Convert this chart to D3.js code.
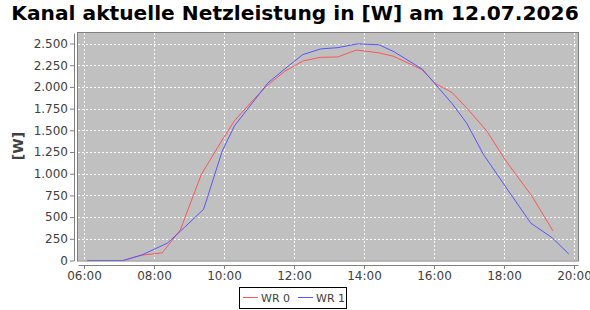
<!DOCTYPE html>
<html><head><meta charset="utf-8">
<script src="https://cdn.jsdelivr.net/npm/d3@7"></script>
<style>
html,body{margin:0;padding:0;background:#fff;}
svg{display:block;font-family:"DejaVu Sans",sans-serif;}
</style></head>
<body><svg id="c" width="590" height="310"></svg>
<script>
const title = "Kanal aktuelle Netzleistung in [W] am 12.07.2026";
const yLabel = "[W]";
const seriesNames = ["WR 0", "WR 1"];
const xTickLabels = ["06:00","08:00","10:00","12:00","14:00","16:00","18:00","20:00"];
const yTickValues = [0,250,500,750,1000,1250,1500,1750,2000,2250,2500];

const wr0Times = ["06:06","07:07","07:37","08:14","08:45","09:21","09:58","10:18","10:50","11:13","11:44","12:16","12:45","13:15","13:47","14:26","14:51","15:39","16:02","16:31","16:57","17:31","18:03","18:48","19:24"];
const wr0Values = [0,0,60,88,350,990,1400,1610,1850,2010,2180,2300,2340,2345,2425,2392,2352,2200,2040,1935,1750,1487,1150,740,340];

const wr1Times = ["06:06","07:07","07:38","08:23","08:52","09:25","09:57","10:18","11:15","11:44","12:15","12:46","13:15","13:49","14:26","14:52","15:40","16:02","16:31","16:56","17:25","18:03","18:46","19:23","19:51"];
const wr1Values = [0,0,60,200,380,590,1262,1552,2044,2206,2372,2438,2452,2496,2485,2403,2204,2034,1808,1583,1219,847,430,260,75];

const colors = ["#ff5555","#5555ff"];
const toH = s => { const [h,m] = s.split(":").map(Number); return h + m/60; };

const svg = d3.select("#c");
const L = 78, R = 578, T = 33, B = 260.5;

const x = d3.scaleLinear().domain([6 - 6/35, 6 - 6/35 + 500/35]).range([L, R]);
const y = d3.scaleLinear().domain([0, 2621]).range([B, T]);

// title
svg.append("text").attr("x", 295).attr("y", 20).attr("text-anchor","middle")
  .style("font-weight","bold").style("font-size","20.2px").attr("fill","#000").text(title);

// plot bg
svg.append("rect").attr("x",L).attr("y",T).attr("width",R-L).attr("height",B-T).attr("fill","#c0c0c0");

// grid
const xTickVals = xTickLabels.map(toH);
svg.append("g").selectAll("line").data(xTickVals).join("line")
  .attr("x1",d=>Math.round(x(d))+0.5).attr("x2",d=>Math.round(x(d))+0.5).attr("y1",T).attr("y2",B)
  .attr("stroke","#fff").attr("stroke-width",1).attr("stroke-dasharray","2,2");
svg.append("g").selectAll("line").data(yTickValues).join("line")
  .attr("y1",d=>Math.round(y(d))+0.5).attr("y2",d=>Math.round(y(d))+0.5).attr("x1",L).attr("x2",R)
  .attr("stroke","#fff").attr("stroke-width",1).attr("stroke-dasharray","2,2");

// lines
const line = d3.line().x(d=>x(d[0])).y(d=>y(d[1]));
const series = [
  wr0Times.map((t,i)=>[toH(t), wr0Values[i]]),
  wr1Times.map((t,i)=>[toH(t), wr1Values[i]])
];
series.forEach((s,i)=>{
  svg.append("path").datum(s).attr("d",line).attr("fill","none")
    .attr("stroke",colors[i]).attr("stroke-width",1);
});

// outline
svg.append("rect").attr("x",L-0.5).attr("y",T-0.5).attr("width",R-L+1).attr("height",B-T+1)
  .attr("fill","none").attr("stroke","#808080").attr("stroke-width",1);

// x axis
const xAxis = d3.axisBottom(x).tickValues(xTickVals).tickFormat((d,i)=>xTickLabels[i]).tickSize(4).tickSizeOuter(0);
const gx = svg.append("g").attr("transform",`translate(0,${Math.round(B)+4})`).call(xAxis);
gx.select(".domain").attr("stroke","#808080");
gx.selectAll(".tick line").attr("stroke","#808080");
gx.selectAll("text").attr("fill","#404040").style("font-size","12px").style("font-family","DejaVu Sans").attr("dy","0.85em").attr("y",5);

// y axis
const yAxis = d3.axisLeft(y).tickValues(yTickValues).tickFormat(d=>d3.format(",")(d).replace(/,/g,".")).tickSize(4).tickSizeOuter(0);
const gy = svg.append("g").attr("transform",`translate(${L-4},0)`).call(yAxis);
gy.select(".domain").attr("stroke","#808080");
gy.selectAll(".tick line").attr("stroke","#808080");
gy.selectAll("text").attr("fill","#404040").style("font-size","12px").style("font-family","DejaVu Sans").attr("x",-6);

// y label
svg.append("text").attr("transform","translate(23,146) rotate(-90)").attr("text-anchor","middle")
  .style("font-weight","bold").style("font-size","14px").attr("fill","#404040").text(yLabel);

// legend
const lg = svg.append("g");
lg.append("rect").attr("x",239.5).attr("y",287.5).attr("width",107).attr("height",21).attr("fill","#fff").attr("stroke","#000");
const legX = [243, 298];
seriesNames.forEach((n,i)=>{
  lg.append("line").attr("x1",legX[i]).attr("x2",legX[i]+15).attr("y1",297.5).attr("y2",297.5).attr("stroke",colors[i]);
  lg.append("text").attr("x",legX[i]+18).attr("y",302).style("font-size","11px").attr("fill","#404040").text(n);
});
</script></body></html>
